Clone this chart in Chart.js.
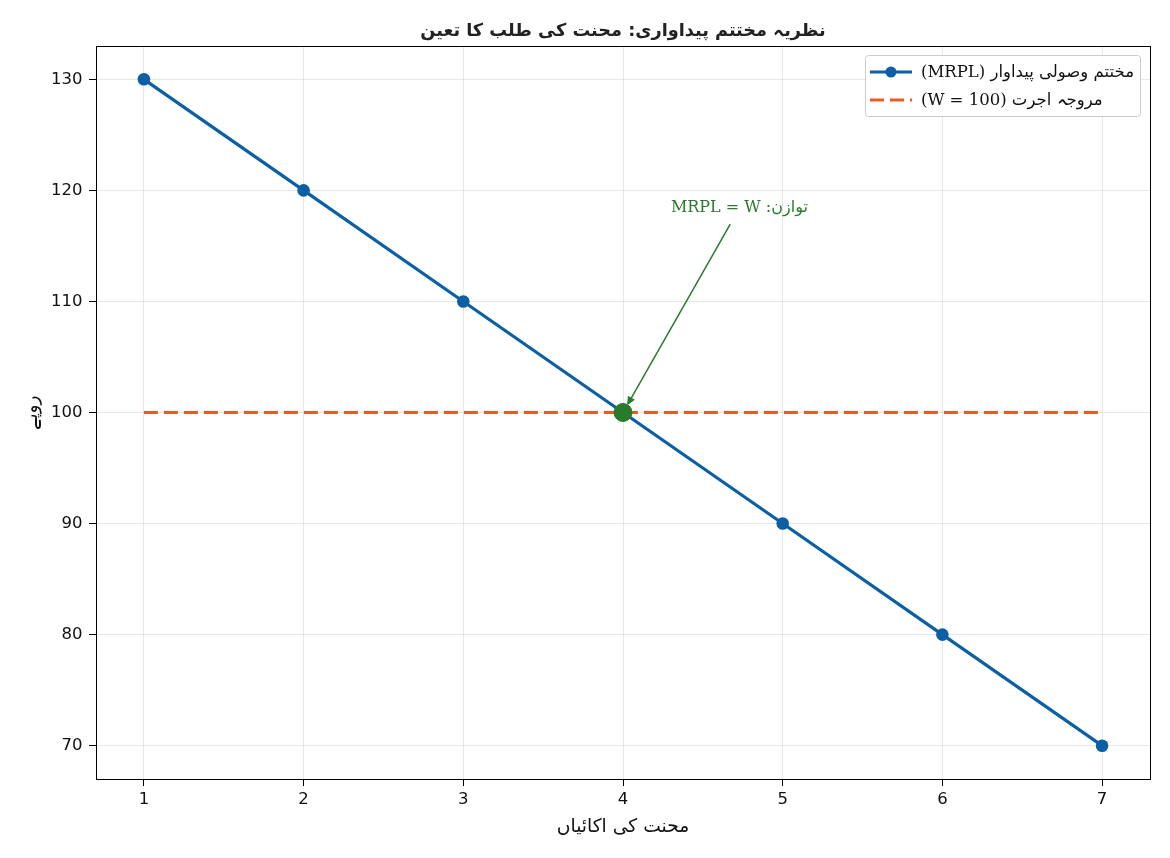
<!DOCTYPE html>
<html><head><meta charset="utf-8">
<script src="https://cdn.jsdelivr.net/npm/chart.js@4"></script>
<style>html,body{margin:0;padding:0;background:#fff}canvas{display:block}</style>
</head><body>
<canvas id="c" width="1170" height="858" dir="rtl"></canvas>
<script>
const units = [1, 2, 3, 4, 5, 6, 7];
const mrpl = [130, 120, 110, 100, 90, 80, 70];
const wage = [100, 100, 100, 100, 100, 100, 100];
const xTicks = [1, 2, 3, 4, 5, 6, 7];
const yTicks = [70, 80, 90, 100, 110, 120, 130];
const equilibrium = [{x: 4, y: 100}];
const annotationText = 'توازن: MRPL = W';
const annotationAt = {x: 4.3, y: 118.4};
const titleText = 'نظریہ مختتم پیداواری: محنت کی طلب کا تعین';
const xLabel = 'محنت کی اکائیاں';
const yLabel = 'روپے';
const mrplLabel = 'مختتم وصولی پیداوار (MRPL)';
const wageLabel = 'مروجہ اجرت (W = 100)';

const BLUE = '#0b5fa5';
const ORANGE = '#ec5a24';
const GREEN = '#2a7a2c';
const SANS = '"DejaVu Sans", sans-serif';
const SERIF = '"DejaVu Serif", "DejaVu Sans", serif';

const customPlugin = {
  id: 'custom',
  afterDatasetsDraw(chart) {
    const ctx = chart.ctx;
    const xs = chart.scales.x, ys = chart.scales.y;
    ctx.save();
    ctx.font = '16px ' + SERIF;
    ctx.fillStyle = GREEN;
    ctx.textAlign = 'left';
    ctx.textBaseline = 'middle';
    const tx = xs.getPixelForValue(annotationAt.x);
    const ty = ys.getPixelForValue(annotationAt.y);
    const tw = ctx.measureText(annotationText).width;
    ctx.fillText(annotationText, tx, ty);
    const cx = tx + tw / 2, cy = ty;
    const px = xs.getPixelForValue(equilibrium[0].x), py = ys.getPixelForValue(equilibrium[0].y);
    const dx = px - cx, dy = py - cy;
    const t = 16 / dy;
    const sx = cx + dx * t, sy = cy + dy * t;
    const len = Math.hypot(dx, dy);
    const ux = dx / len, uy = dy / len;
    const ex = px - ux * 8, ey = py - uy * 8;
    const hl = 9, hw = 4;
    ctx.strokeStyle = GREEN;
    ctx.lineWidth = 1.5;
    ctx.beginPath();
    ctx.moveTo(sx, sy);
    ctx.lineTo(ex - ux * hl * 0.8, ey - uy * hl * 0.8);
    ctx.stroke();
    ctx.beginPath();
    ctx.moveTo(ex, ey);
    ctx.lineTo(ex - ux * hl - uy * hw, ey - uy * hl + ux * hw);
    ctx.lineTo(ex - ux * hl + uy * hw, ey - uy * hl - ux * hw);
    ctx.closePath();
    ctx.fillStyle = GREEN;
    ctx.fill();
    ctx.restore();
  },
  afterDraw(chart) {
    const ctx = chart.ctx;
    const a = chart.chartArea;
    ctx.save();
    ctx.font = 'bold 17.7px ' + SANS;
    ctx.fillStyle = '#222';
    ctx.textAlign = 'center';
    ctx.textBaseline = 'middle';
    ctx.fillText(titleText, (a.left + a.right) / 2, 31);
    ctx.strokeStyle = '#000';
    ctx.lineWidth = 1;
    ctx.strokeRect(Math.round(a.left) + 0.5, Math.round(a.top) + 0.5, Math.round(a.right - a.left), Math.round(a.bottom - a.top));
    ctx.font = '16.5px ' + SERIF;
    const items = [
      {text: mrplLabel, color: BLUE, dash: [], marker: true},
      {text: wageLabel, color: ORANGE, dash: [14, 6], marker: false}
    ];
    const textW = Math.max(...items.map(i => ctx.measureText(i.text).width));
    const lineLen = 42, gap = 9, padL = 5, padR = 6;
    const boxW = padL + lineLen + gap + textW + padR;
    const boxH = 61;
    const bx = a.right - 10 - boxW, by = a.top + 9;
    ctx.beginPath();
    ctx.roundRect(bx + 0.5, by + 0.5, boxW, boxH, 3);
    ctx.fillStyle = 'rgba(255,255,255,0.85)';
    ctx.fill();
    ctx.strokeStyle = '#cccccc';
    ctx.lineWidth = 1;
    ctx.stroke();
    items.forEach((it, i) => {
      const ry = by + 17 + i * 28;
      const lx = bx + padL;
      ctx.strokeStyle = it.color;
      ctx.lineWidth = 3;
      ctx.setLineDash(it.dash);
      ctx.beginPath();
      ctx.moveTo(lx, ry);
      ctx.lineTo(lx + lineLen, ry);
      ctx.stroke();
      ctx.setLineDash([]);
      if (it.marker) {
        ctx.fillStyle = it.color;
        ctx.beginPath();
        ctx.arc(lx + lineLen / 2, ry, 5.5, 0, Math.PI * 2);
        ctx.fill();
      }
      ctx.fillStyle = '#111';
      ctx.textAlign = 'left';
      ctx.textBaseline = 'middle';
      ctx.fillText(it.text, lx + lineLen + gap, ry + 1);
    });
    ctx.restore();
  }
};

new Chart(document.getElementById('c'), {
  type: 'line',
  data: {
    datasets: [
      {
        label: 'equilibrium',
        data: equilibrium,
        showLine: false,
        pointRadius: 9,
        pointHoverRadius: 9,
        pointBackgroundColor: GREEN,
        pointBorderColor: GREEN,
        borderColor: GREEN,
        order: 0
      },
      {
        label: mrplLabel,
        data: units.map((u, i) => ({x: u, y: mrpl[i]})),
        borderColor: BLUE,
        backgroundColor: BLUE,
        borderWidth: 3.2,
        pointRadius: 6.3,
        pointBackgroundColor: BLUE,
        pointBorderColor: BLUE,
        pointBorderWidth: 0,
        tension: 0,
        order: 2
      },
      {
        label: wageLabel,
        data: units.map((u, i) => ({x: u, y: wage[i]})),
        borderColor: ORANGE,
        backgroundColor: ORANGE,
        borderWidth: 3,
        borderDash: [14, 6],
        pointRadius: 0,
        tension: 0,
        order: 1
      }
    ]
  },
  options: {
    responsive: false,
    animation: false,
    devicePixelRatio: 1,
    layout: {padding: {left: 0, right: 20, top: 46, bottom: 0}},
    plugins: {
      legend: {display: false},
      tooltip: {enabled: false},
      title: {display: false}
    },
    scales: {
      x: {
        type: 'linear',
        min: 0.7,
        max: 7.3,
        afterBuildTicks: s => { s.ticks = xTicks.map(v => ({value: v})); },
        afterFit: s => { s.height = 79; },
        grid: {color: 'rgba(0,0,0,0.09)', tickColor: '#000', tickLength: 7, drawTicks: true},
        border: {display: false},
        ticks: {color: '#111', font: {family: SANS, size: 16.5}, padding: 4, maxRotation: 0},
        title: {display: true, text: xLabel, color: '#111', font: {family: SANS, size: 18.7}, padding: {top: 0, bottom: 20}}
      },
      y: {
        type: 'linear',
        min: 67,
        max: 133,
        afterBuildTicks: s => { s.ticks = yTicks.map(v => ({value: v})); },
        afterFit: s => { s.width = 96; },
        grid: {color: 'rgba(0,0,0,0.09)', tickColor: '#000', tickLength: 7, drawTicks: true},
        border: {display: false},
        ticks: {color: '#111', font: {family: SANS, size: 16.5}, padding: 6.5},
        title: {display: true, text: yLabel, color: '#111', font: {family: SANS, size: 18.7}, padding: {top: 21, bottom: 0}}
      }
    }
  },
  plugins: [customPlugin]
});
</script>
</body></html>
